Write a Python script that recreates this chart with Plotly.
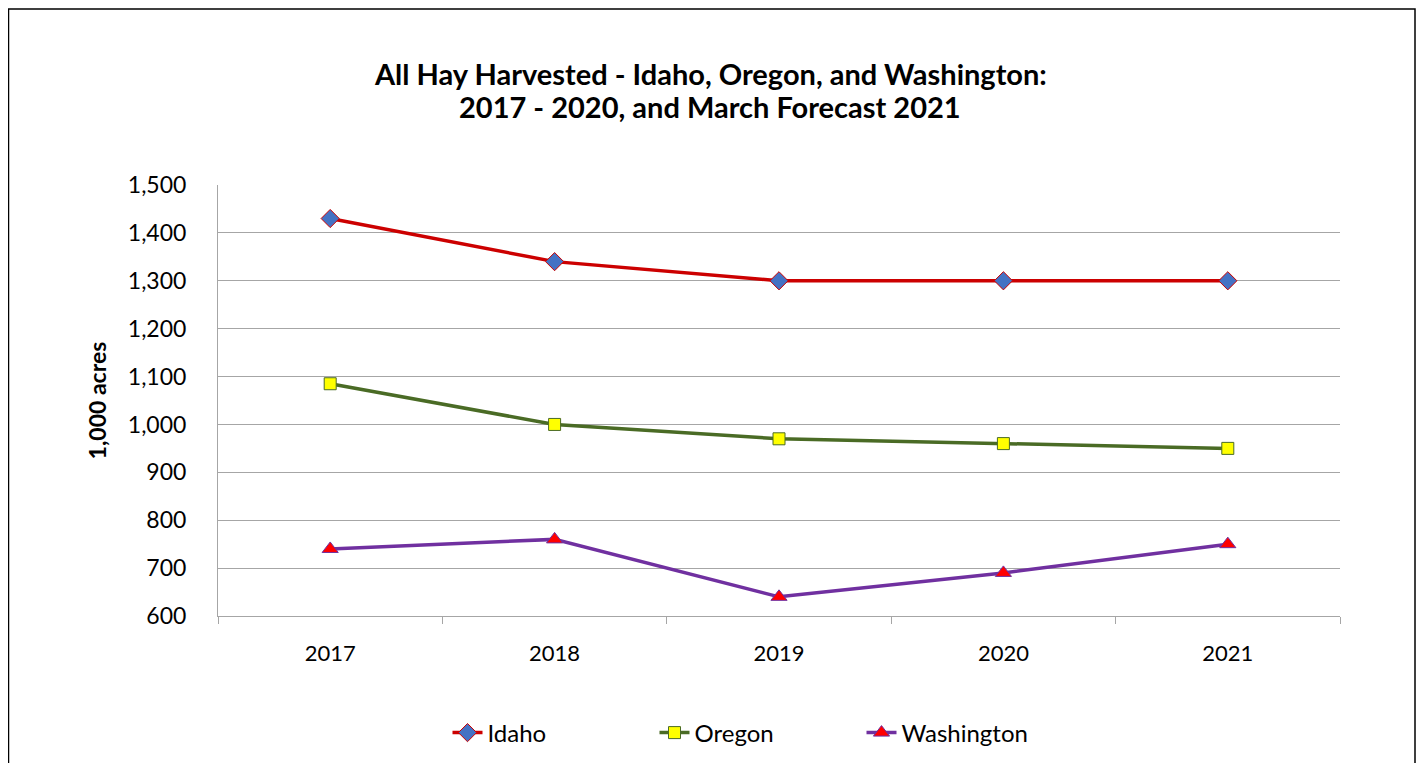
import plotly.graph_objects as go

years = ["2017", "2018", "2019", "2020", "2021"]
idaho = [1430, 1340, 1300, 1300, 1300]
oregon = [1085, 1000, 970, 960, 950]
washington = [740, 760, 640, 690, 750]
y_ticks = [600, 700, 800, 900, 1000, 1100, 1200, 1300, 1400, 1500]
title_lines = [
    "All Hay Harvested - Idaho, Oregon, and Washington:",
    "2017 - 2020, and March Forecast 2021",
]

FONT = "Lato"

fig = go.Figure()
fig.add_trace(go.Scatter(
    x=years, y=idaho, name="Idaho", mode="lines+markers",
    line=dict(color="#cc0000", width=3.5),
    marker=dict(symbol="diamond", size=14, color="#4472c4", line=dict(color="#cc0000", width=1)),
))
fig.add_trace(go.Scatter(
    x=years, y=oregon, name="Oregon", mode="lines+markers",
    line=dict(color="#4a6b25", width=3.5),
    marker=dict(symbol="square", size=12, color="#ffff00", line=dict(color="#4a6b25", width=1)),
))
fig.add_trace(go.Scatter(
    x=years, y=washington, name="Washington", mode="lines+markers",
    line=dict(color="#7030a0", width=3.5),
    marker=dict(symbol="triangle-up", size=14, color="#ff0000", line=dict(color="#7030a0", width=1)),
))

# page body has an 8px margin, so the figure starts at (8, 8) in the window;
# keep figure + margins inside the window to avoid scrollbars
OFF = 8
W, H = 1424 - 2 * OFF, 771 - 2 * OFF
L, T = 218 - OFF, 185 - OFF
R = W - (1340 - OFF)
B = H - (616 - OFF)
pw, ph = W - L - R, H - T - B


def px_x(p):
    return (p - OFF - L) / pw


def px_y(p):
    return (H - B - (p - OFF)) / ph


fig.update_layout(
    width=W, height=H,
    margin=dict(l=L, r=R, t=T, b=B, autoexpand=False),
    paper_bgcolor="white", plot_bgcolor="white",
    font=dict(family=FONT, size=22, color="black"),
    xaxis=dict(
        type="category", range=[-0.5, 4.5],
        tickson="boundaries", ticks="outside", ticklen=7, tickcolor="#a6a6a6",
        showline=True, linecolor="#a6a6a6", linewidth=1,
        showgrid=False, tickfont=dict(size=22), ticklabelstandoff=18,
        automargin=False,
    ),
    yaxis=dict(
        range=[600, 1500], tickvals=y_ticks, tickformat=",",
        showline=True, linecolor="#a6a6a6", linewidth=1,
        showgrid=True, gridcolor="#a6a6a6", gridwidth=1,
        ticks="", tickfont=dict(size=23), ticklabelstandoff=26,
        title=dict(text="<b>1,000 acres</b>", font=dict(size=23), standoff=14),
        zeroline=False, automargin=False,
    ),
    legend=dict(
        orientation="h", x=px_x(758), xanchor="center",
        y=px_y(733), yanchor="middle",
        font=dict(size=24), entrywidth=162, entrywidthmode="pixels",
    ),
    showlegend=True,
)

for text, yc in zip(title_lines, [73, 107]):
    fig.add_annotation(
        text=f"<b>{text}</b>", xref="paper", yref="paper",
        x=px_x(710), y=px_y(yc), xanchor="center", yanchor="middle",
        showarrow=False, font=dict(family=FONT, size=29, color="black"),
    )

# outer chart frame
fig.add_shape(
    type="rect", xref="paper", yref="paper",
    x0=px_x(8.5), x1=px_x(1415),
    y0=px_y(800), y1=px_y(9),
    line=dict(color="black", width=1.5), fillcolor="rgba(0,0,0,0)", layer="below",
)

fig.write_html("out.html")
